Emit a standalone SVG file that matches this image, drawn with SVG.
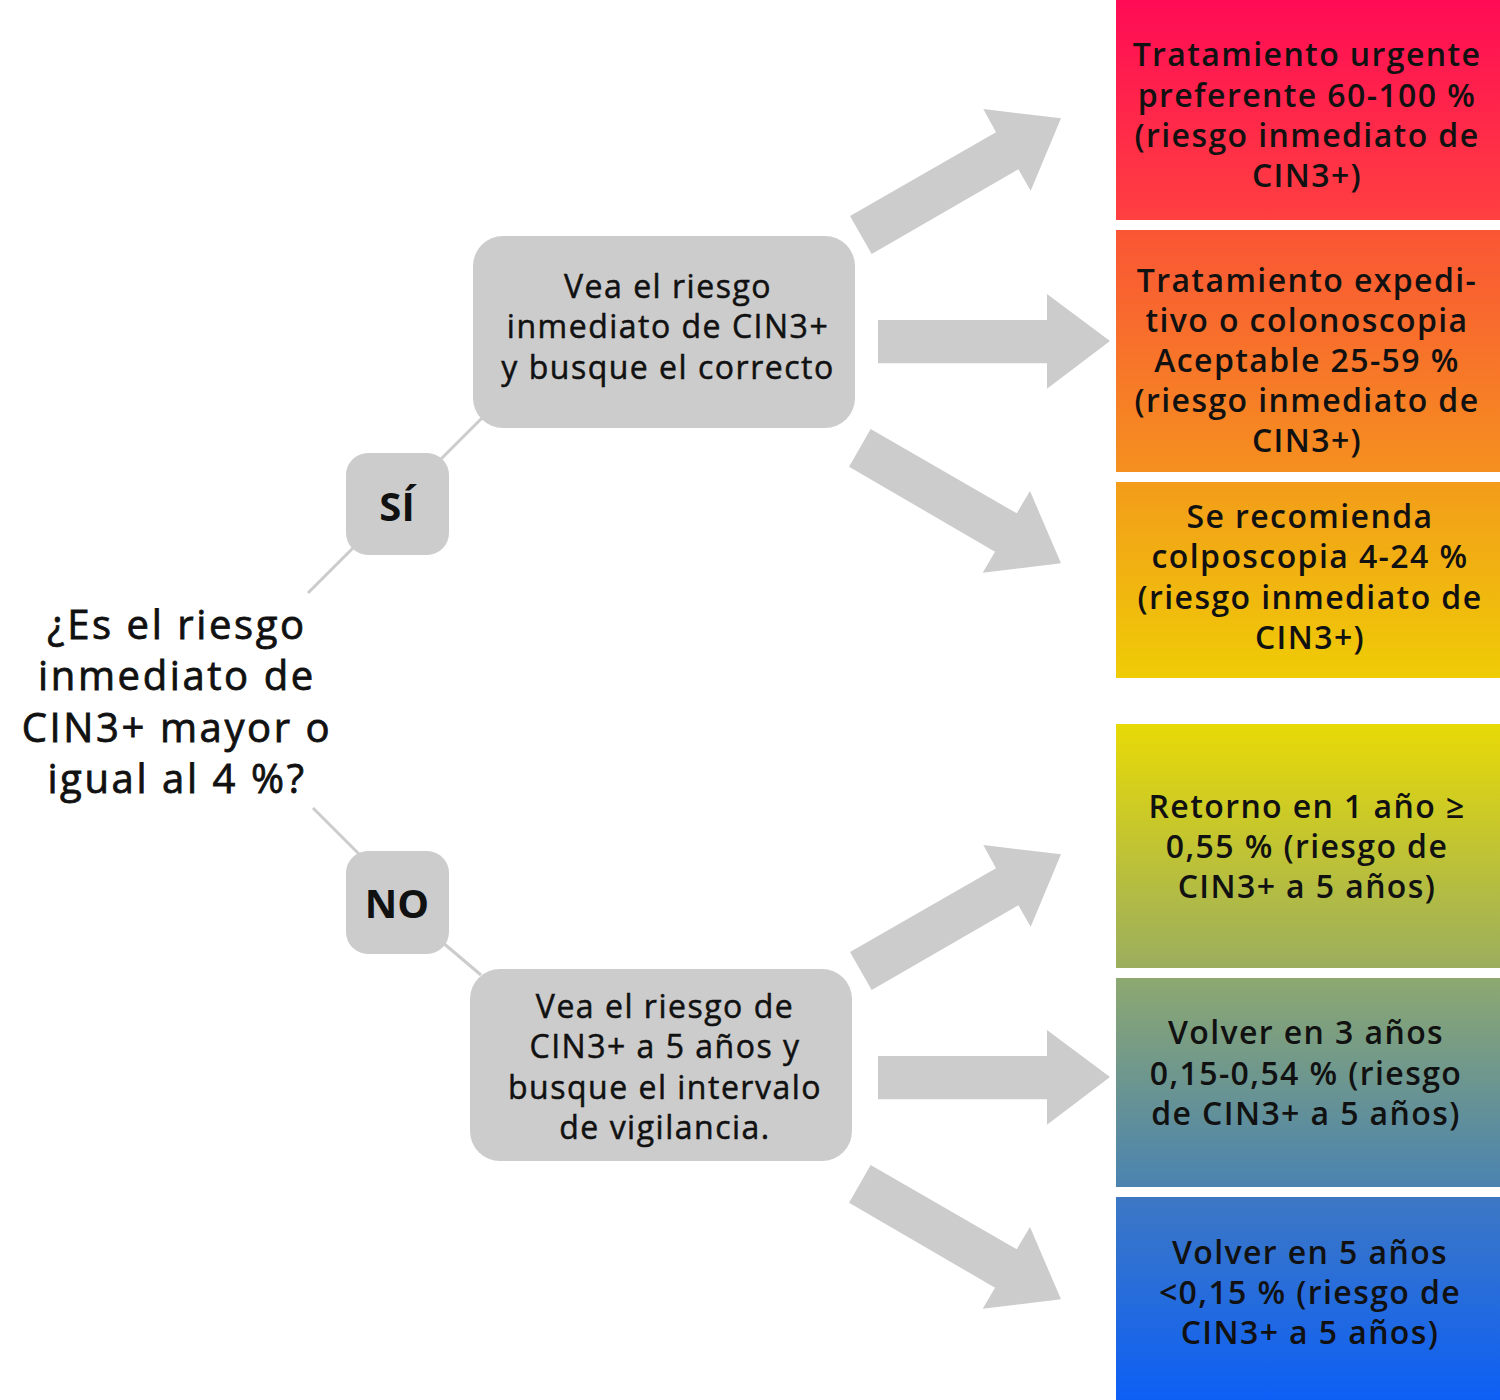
<svg xmlns="http://www.w3.org/2000/svg" width="1500" height="1400" viewBox="0 0 1500 1400">
<style>
text{font-family:"Open Sans","Noto Sans","DejaVu Sans",sans-serif;fill:#111;text-anchor:middle}
.q{font-size:40px;letter-spacing:2.6px;stroke:#111;stroke-width:0.8px}
.g{font-size:32px;letter-spacing:1.5px;stroke:#111;stroke-width:0.5px}
.c{font-size:32px;font-weight:600;letter-spacing:1.4px}
.b{font-size:40px;font-weight:bold}
.box{fill:#cccccc}
.arr{fill:#cccccc}
.ln{stroke:#cccccc;stroke-width:3;fill:none}
</style>
<defs>
<linearGradient id="rg" gradientUnits="userSpaceOnUse" x1="0" y1="0" x2="0" y2="1400">
<stop offset="0" stop-color="#ff0b55"/>
<stop offset="0.157" stop-color="#ff4040"/>
<stop offset="0.164" stop-color="#fa5535"/>
<stop offset="0.337" stop-color="#f5901f"/>
<stop offset="0.344" stop-color="#f39c1a"/>
<stop offset="0.484" stop-color="#efcc06"/>
<stop offset="0.517" stop-color="#e8da06"/>
<stop offset="0.691" stop-color="#9bae5e"/>
<stop offset="0.699" stop-color="#8da870"/>
<stop offset="0.848" stop-color="#4a83b0"/>
<stop offset="0.855" stop-color="#3d78c4"/>
<stop offset="1" stop-color="#0d5ff5"/>
</linearGradient>
<polygon id="au" points="850,216 871.7,254 1018.3,169.3 1030.7,190.7 1061,118.3 983.3,109 996,132.3"/>
<polygon id="ah" points="878,320 1047,320 1047,294 1110,341 1047,388.7 1047,363.3 878,363.3"/>
<polygon id="ad" points="870.7,429 849,466.7 995,551.7 982.7,572.7 1061,563.3 1030,491 1016.7,513.3"/>
</defs>

<g id="connectors">
<line class="ln" x1="308" y1="593" x2="356" y2="545"/>
<line class="ln" x1="439" y1="461" x2="482" y2="418"/>
<line class="ln" x1="313" y1="808" x2="361" y2="856"/>
<line class="ln" x1="442" y1="942" x2="481" y2="975"/>
<g class="arr">
<use href="#au"/><use href="#ah"/><use href="#ad"/>
<use href="#au" y="736"/><use href="#ah" y="736"/><use href="#ad" y="736"/>
</g>
</g>

<g id="question">
<text class="q" x="177" y="639">¿Es el riesgo</text>
<text class="q" x="177" y="690">inmediato de</text>
<text class="q" x="177" y="742">CIN3+ mayor o</text>
<text class="q" x="177" y="793">igual al 4 %?</text>
</g>

<g id="si">
<rect class="box" x="346" y="453" width="103" height="102" rx="22"/>
<text class="b" x="397" y="521">SÍ</text>
</g>

<g id="no">
<rect class="box" x="346" y="851" width="103" height="103" rx="22"/>
<text class="b" x="397" y="918">NO</text>
</g>

<g id="step-inmediato">
<rect class="box" x="473" y="236" width="382" height="192" rx="30"/>
<text class="g" x="668" y="298">Vea el riesgo</text>
<text class="g" x="668" y="338">inmediato de CIN3+</text>
<text class="g" x="668" y="379">y busque el correcto</text>
</g>

<g id="step-5anos">
<rect class="box" x="470" y="969" width="382" height="192" rx="30"/>
<text class="g" x="665" y="1018">Vea el riesgo de</text>
<text class="g" x="665" y="1058">CIN3+ a 5 años y</text>
<text class="g" x="665" y="1099">busque el intervalo</text>
<text class="g" x="665" y="1139">de vigilancia.</text>
</g>

<g id="r1">
<rect x="1116" y="0" width="384" height="220" fill="url(#rg)"/>
<text class="c" x="1307" y="66">Tratamiento urgente</text>
<text class="c" x="1307" y="107">preferente 60-100 %</text>
<text class="c" x="1307" y="147">(riesgo inmediato de</text>
<text class="c" x="1307" y="187">CIN3+)</text>
</g>

<g id="r2">
<rect x="1116" y="230" width="384" height="242" fill="url(#rg)"/>
<text class="c" x="1307" y="292">Tratamiento expedi-</text>
<text class="c" x="1307" y="332">tivo o colonoscopia</text>
<text class="c" x="1307" y="372">Aceptable 25-59 %</text>
<text class="c" x="1307" y="412">(riesgo inmediato de</text>
<text class="c" x="1307" y="452">CIN3+)</text>
</g>

<g id="r3">
<rect x="1116" y="482" width="384" height="196" fill="url(#rg)"/>
<text class="c" x="1310" y="528">Se recomienda</text>
<text class="c" x="1310" y="568">colposcopia 4-24 %</text>
<text class="c" x="1310" y="609">(riesgo inmediato de</text>
<text class="c" x="1310" y="649">CIN3+)</text>
</g>

<g id="r4">
<rect x="1116" y="724" width="384" height="244" fill="url(#rg)"/>
<text class="c" x="1307" y="818">Retorno en 1 año ≥</text>
<text class="c" x="1307" y="858">0,55 % (riesgo de</text>
<text class="c" x="1307" y="898">CIN3+ a 5 años)</text>
</g>

<g id="r5">
<rect x="1116" y="978" width="384" height="209" fill="url(#rg)"/>
<text class="c" x="1306" y="1044">Volver en 3 años</text>
<text class="c" x="1306" y="1085">0,15-0,54 % (riesgo</text>
<text class="c" x="1306" y="1125">de CIN3+ a 5 años)</text>
</g>

<g id="r6">
<rect x="1116" y="1197" width="384" height="203" fill="url(#rg)"/>
<text class="c" x="1310" y="1264">Volver en 5 años</text>
<text class="c" x="1310" y="1304">&lt;0,15 % (riesgo de</text>
<text class="c" x="1310" y="1344">CIN3+ a 5 años)</text>
</g>
</svg>
